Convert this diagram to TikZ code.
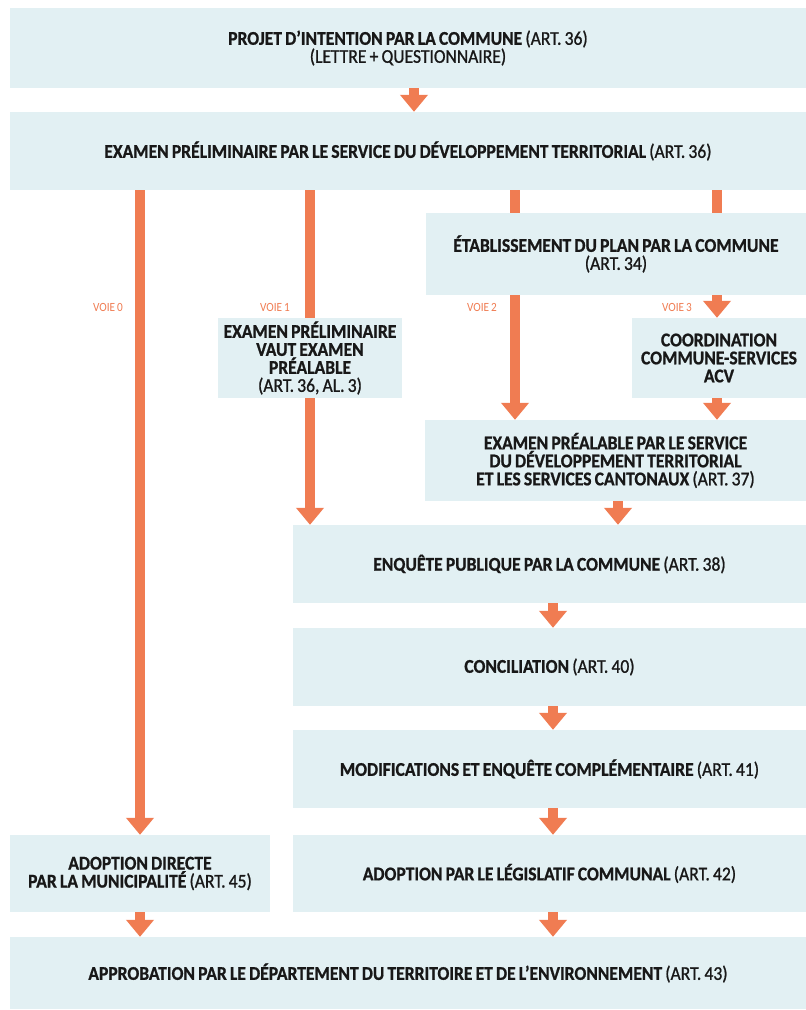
\documentclass[tikz,border=0pt]{standalone}
\usepackage{fontspec}
\setmainfont{Carlito}[FakeStretch=0.9, WordSpace=0.8, BoldFeatures={FakeBold=0.9}]
\newfontfamily\semib{Carlito}[FakeStretch=0.9, WordSpace=0.8, FakeBold=1.0]
\usetikzlibrary{arrows.meta}
\definecolor{boxc}{RGB}{226,240,243}
\definecolor{arrc}{RGB}{240,124,82}
\definecolor{txt}{RGB}{24,24,24}
\newcommand\rg[1]{{\semib\mdseries #1}}
\begin{document}
\begin{tikzpicture}[x=1pt,y=-1pt,
  box/.style={fill=boxc, draw=none, inner sep=0pt, align=center, text=txt,
    font=\bfseries\fontsize{19.5}{18}\selectfont},
  arr/.style={draw=arrc, line width=10pt, -{Triangle[width=27pt,length=17pt]}},
  stub/.style={draw=arrc, line width=10pt},
  voie/.style={text=arrc, inner sep=0pt, font=\fontsize{12.5}{13}\selectfont}]
\useasboundingbox (0,0) rectangle (806,1010);
\fill[white] (0,0) rectangle (806,1010);
% column coordinates
\coordinate (cA) at (140,0);
\coordinate (cB) at (310,0);
\coordinate (cC) at (515,0);
\coordinate (cD) at (717,0);
\coordinate (cE) at (618,0);
\coordinate (cF) at (553,0);
\coordinate (cG) at (414,0);
% boxes
\node[box, minimum width=796, minimum height=80] (b1) at (408,48)
  {PROJET D’INTENTION PAR LA COMMUNE \rg{(ART. 36)}\\ \rg{(LETTRE + QUESTIONNAIRE)}};
\node[box, minimum width=796, minimum height=78] (b2) at (408,151)
  {EXAMEN PRÉLIMINAIRE PAR LE SERVICE DU DÉVELOPPEMENT TERRITORIAL \rg{(ART. 36)}};
\node[box, minimum width=380, minimum height=82] (etab) at (616,254)
  {ÉTABLISSEMENT DU PLAN PAR LA COMMUNE\\ \rg{(ART. 34)}};
\node[box, minimum width=184, minimum height=80] (vaut) at (310,358)
  {EXAMEN PRÉLIMINAIRE\\ VAUT EXAMEN\\ PRÉALABLE\\ \rg{(ART. 36, AL. 3)}};
\node[box, minimum width=174, minimum height=80] (coord) at (719,358)
  {COORDINATION\\ COMMUNE-SERVICES\\ ACV};
\node[box, minimum width=381, minimum height=81] (exam) at (615.5,460.5)
  {EXAMEN PRÉALABLE PAR LE SERVICE\\ DU DÉVELOPPEMENT TERRITORIAL\\ ET LES SERVICES CANTONAUX \rg{(ART. 37)}};
\node[box, minimum width=513, minimum height=78] (enq) at (549.5,564)
  {ENQUÊTE PUBLIQUE PAR LA COMMUNE \rg{(ART. 38)}};
\node[box, minimum width=513, minimum height=78] (conc) at (549.5,667)
  {CONCILIATION \rg{(ART. 40)}};
\node[box, minimum width=513, minimum height=78] (mod) at (549.5,769)
  {MODIFICATIONS ET ENQUÊTE COMPLÉMENTAIRE \rg{(ART. 41)}};
\node[box, minimum width=513, minimum height=77] (leg) at (549.5,873.5)
  {ADOPTION PAR LE LÉGISLATIF COMMUNAL \rg{(ART. 42)}};
\node[box, minimum width=260, minimum height=77] (ad) at (140,873.5)
  {ADOPTION DIRECTE\\ PAR LA MUNICIPALITÉ \rg{(ART. 45)}};
\node[box, minimum width=796, minimum height=72] (appr) at (408,973)
  {APPROBATION PAR LE DÉPARTEMENT DU TERRITOIRE ET DE L’ENVIRONNEMENT \rg{(ART. 43)}};
% voie labels
\node[voie] (v0) at (108,307) {VOIE 0};
\node[voie] (v1) at (275,307) {VOIE 1};
\node[voie] (v2) at (482,307) {VOIE 2};
\node[voie] (v3) at (677,307) {VOIE 3};
% connectors
\draw[arr] (b1.south -| cG) -- (b2.north -| cG);
\draw[arr] (b2.south -| cA) -- (ad.north -| cA);
\draw[stub] (b2.south -| cB) -- (vaut.north -| cB);
\draw[arr] (vaut.south -| cB) -- (enq.north -| cB);
\draw[stub] (b2.south -| cC) -- (etab.north -| cC);
\draw[stub] (b2.south -| cD) -- (etab.north -| cD);
\draw[arr] (etab.south -| cC) -- (exam.north -| cC);
\draw[arr] (etab.south -| cD) -- (coord.north -| cD);
\draw[arr] (coord.south -| cD) -- (exam.north -| cD);
\draw[arr] (exam.south -| cE) -- (enq.north -| cE);
\draw[arr] (enq.south -| cF) -- (conc.north -| cF);
\draw[arr] (conc.south -| cF) -- (mod.north -| cF);
\draw[arr] (mod.south -| cF) -- (leg.north -| cF);
\draw[arr] (leg.south -| cF) -- (appr.north -| cF);
\draw[arr] (ad.south -| cA) -- (appr.north -| cA);
\end{tikzpicture}
\end{document}
